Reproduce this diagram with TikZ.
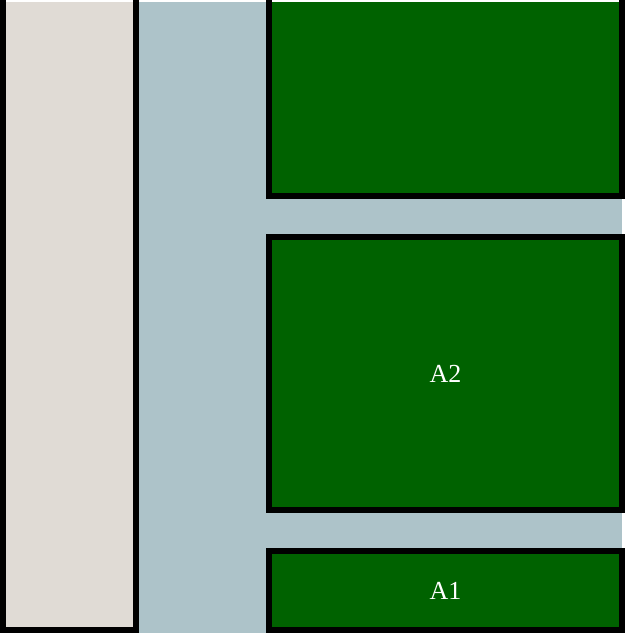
\documentclass[tikz,border=0pt]{standalone}
\usepackage{fontspec}
\setmainfont{Liberation Serif}

\definecolor{path}{RGB}{173,195,201}
\definecolor{walk}{RGB}{224,219,213}
\definecolor{bed}{RGB}{0,98,0}

\tikzset{
  border/.style={line width=4.5pt, draw=black},
  plot/.style={rectangle, fill=bed, border, inner sep=0pt, outer sep=0pt,
    minimum width=264.75pt, text=white, font=\fontsize{19.5}{22}\selectfont},
}

\begin{document}
\begin{tikzpicture}[x=0.75pt, y=-0.75pt]
			\useasboundingbox (0,0) rectangle (625,633);

			% paths between the plots
			\fill [path] (136,2) rectangle (269,633) ;
			\fill [path] (269,196) rectangle (622,237) ;
			\fill [path] (269,510) rectangle (622,551) ;

			% walk on the left
			\fill [walk] (3,2) rectangle (136,630) ;
			\draw [border] (3,0) -- (3,630) -- (136,630) -- (136,0) ;

			% top plot, cut at the top
			\fill [bed] (269,2) rectangle (622,196) ;
			\draw [border] (269,0) -- (269,196) -- (622,196) -- (622,0) ;

			% labelled plots
			\node[plot, minimum height=204.75pt] (a2) at (445.5,373.5) {A2} ;
			\node[plot, minimum height=59.25pt] (a1) at (445.5,590.5) {A1} ;

		\end{tikzpicture}
\end{document}
